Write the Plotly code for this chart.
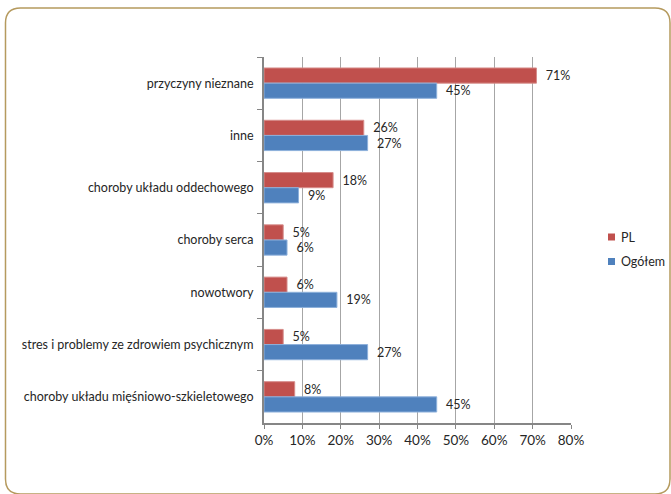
import plotly.graph_objects as go

categories = [
    "przyczyny nieznane",
    "inne",
    "choroby układu oddechowego",
    "choroby serca",
    "nowotwory",
    "stres i problemy ze zdrowiem psychicznym",
    "choroby układu mięśniowo-szkieletowego",
]
pl_values = [71, 26, 18, 5, 6, 5, 8]
ogolem_values = [45, 27, 9, 6, 19, 27, 45]
x_tick_values = [0, 10, 20, 30, 40, 50, 60, 70, 80]
x_tick_labels = ["0%", "10%", "20%", "30%", "40%", "50%", "60%", "70%", "80%"]

W, H = 671, 494
ML, MR, MT, MB = 264, 100, 57, 71
PW, PH = W - ML - MR, H - MT - MB

FONT = "Lato, 'Open Sans', sans-serif"
TXT = "#262626"
PAD = "\u00a0\u00a0"  # small gap between bar end and its value label

series = [
    ("PL", pl_values, "#C0504D", "#D68C8A"),
    ("Ogółem", ogolem_values, "#4F81BD", "#8DB0DB"),
]

fig = go.Figure()
for name, vals, color, edge in series:
    fig.add_trace(go.Bar(
        name=name, y=categories, x=vals, orientation="h",
        marker=dict(color=color, line=dict(color=edge, width=1)),
        text=[f"{PAD}{v}%" for v in vals], textposition="outside",
        textfont=dict(size=12.5, color=TXT, family=FONT), cliponaxis=False,
        showlegend=False,
    ))


def px_x(px):
    return (px - ML) / PW


def px_y(py):
    return (H - MB - py) / PH


def P(px, py):
    return f"{px_x(px):.5f},{px_y(py):.5f}"


# rounded frame around the whole chart
x0, y0, x1, y1, r = 5.5, 8, 670, 494, 15
path = (
    f"M {P(x0, y0 + r)} Q {P(x0, y0)} {P(x0 + r, y0)} "
    f"L {P(x1 - r, y0)} Q {P(x1, y0)} {P(x1, y0 + r)} "
    f"L {P(x1, y1 - r)} Q {P(x1, y1)} {P(x1 - r, y1)} "
    f"L {P(x0 + r, y1)} Q {P(x0, y1)} {P(x0, y1 - r)} Z"
)
shapes = [dict(type="path", xref="paper", yref="paper", path=path,
               line=dict(color="#B59A5E", width=1.5), layer="below")]

# compact legend: small square swatch followed by the series name
annotations = []
for i, (name, _, color, _) in enumerate(series):
    cy = 237 + 24.5 * i
    shapes.append(dict(type="rect", xref="paper", yref="paper",
                       x0=px_x(608), x1=px_x(615), y0=px_y(cy + 3.5), y1=px_y(cy - 3.5),
                       fillcolor=color, line=dict(width=0)))
    annotations.append(dict(xref="paper", yref="paper", x=px_x(619), y=px_y(cy),
                            xanchor="left", yanchor="middle", showarrow=False,
                            text=name, font=dict(size=12.5, color=TXT, family=FONT)))

fig.update_layout(
    width=W, height=H,
    margin=dict(l=ML, r=MR, t=MT, b=MB, autoexpand=False),
    paper_bgcolor="white", plot_bgcolor="white",
    barmode="group", bargap=0.42, bargroupgap=0.0,
    font=dict(family=FONT, size=12, color=TXT),
    showlegend=False,
    shapes=shapes,
    annotations=annotations,
    xaxis=dict(
        range=[0, 80], tickvals=x_tick_values, ticktext=x_tick_labels,
        showgrid=True, gridcolor="#A6A6A6", gridwidth=1,
        showline=True, linecolor="#868686", linewidth=2,
        ticks="outside", ticklen=4, tickcolor="#868686",
        tickfont=dict(size=13.5, color=TXT, family=FONT),
        zeroline=False, fixedrange=True,
    ),
    yaxis=dict(
        type="category", autorange="reversed",
        tickson="boundaries", ticks="outside", ticklen=5, tickcolor="#868686",
        showline=True, linecolor="#868686", linewidth=2,
        showgrid=False, ticklabelstandoff=6,
        tickfont=dict(size=12.5, color=TXT, family=FONT),
        fixedrange=True,
    ),
)

fig.write_html("out.html")
